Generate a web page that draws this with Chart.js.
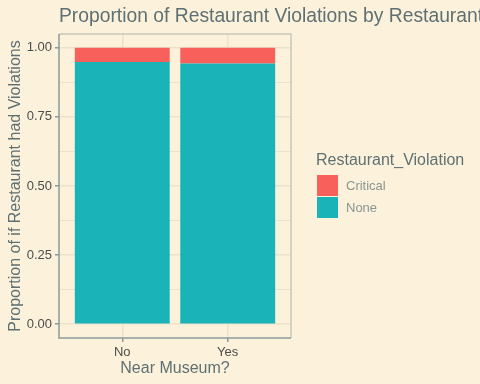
<!DOCTYPE html>
<html><head><meta charset="utf-8">
<script src="https://cdn.jsdelivr.net/npm/chart.js@4/dist/chart.umd.min.js"></script>
<style>html,body{margin:0;padding:0;background:#FCF2DC;}#wrap{width:480px;height:384px;}</style>
</head><body><div id="wrap"><canvas id="c" width="480" height="384"></canvas></div>
<script>
const categories = ["No", "Yes"];
const seriesNames = ["Critical", "None"];
const noneValues = [0.949, 0.943];
const criticalValues = [0.051, 0.057];
const yTicks = [0, 0.25, 0.5, 0.75, 1.0];
const colors = {Critical: "#F8615B", None: "#1AB3B8"};
const titleText = "Proportion of Restaurant Violations by Restaurant";
const legendTitle = "Restaurant_Violation";
const xTitle = "Near Museum?";
const yTitle = "Proportion of if Restaurant had Violations";

const BG = "#FCF2DC";
const GRID = "#ECE2CA";
const TEXT = "#5E7073";
const FONT = "'Liberation Sans', Arial, sans-serif";

const datasets = [
  {label: "None", data: categories.map((c,i)=>({x:i+1, y:noneValues[i]})), backgroundColor: colors.None},
  {label: "Critical", data: categories.map((c,i)=>({x:i+1, y:criticalValues[i]})), backgroundColor: colors.Critical}
];

const bgPlugin = {
  id: 'bg',
  beforeDraw(chart) {
    const ctx = chart.ctx;
    ctx.save(); ctx.fillStyle = BG; ctx.fillRect(0,0,chart.width,chart.height); ctx.restore();
  },
  afterDraw(chart) {
    const ctx = chart.ctx, a = chart.chartArea;
    ctx.save();
    ctx.strokeStyle = "#C9C7B8"; ctx.lineWidth = 1.5;
    ctx.beginPath(); ctx.moveTo(a.left, a.top); ctx.lineTo(a.right, a.top); ctx.lineTo(a.right, a.bottom); ctx.stroke();
    ctx.strokeStyle = "#8C9B9A"; ctx.lineWidth = 1.5;
    ctx.beginPath(); ctx.moveTo(a.left, a.top); ctx.lineTo(a.left, a.bottom); ctx.lineTo(a.right, a.bottom); ctx.stroke();
    ctx.fillStyle = TEXT; ctx.font = "19.3px " + FONT;
    ctx.textAlign = "left"; ctx.textBaseline = "alphabetic";
    ctx.fillText(titleText, 59, 22);
    ctx.font = "16px " + FONT;
    ctx.fillStyle = TEXT;
    ctx.fillText(legendTitle, 316, 165);
    seriesNames.forEach((n,i)=>{
      const y = 175 + i*22;
      ctx.fillStyle = colors[n];
      ctx.fillRect(317, y, 21, 21);
      ctx.fillStyle = "#8A9492";
      ctx.font = "13px " + FONT;
      ctx.textBaseline = "middle";
      ctx.fillText(n, 346, y + 11);
      ctx.textBaseline = "alphabetic";
    });
    ctx.restore();
  }
};

const isMajor = (v)=> yTicks.some(t=>Math.abs(t-v)<1e-9);

new Chart(document.getElementById('c'), {
  type: 'bar',
  data: {datasets},
  plugins: [bgPlugin],
  options: {
    responsive: false, animation: false,
    layout: {padding: {left: 0, top: 34, right: 189, bottom: 0}},
    plugins: {legend: {display: false}, tooltip: {enabled: false}},
    datasets: {bar: {categoryPercentage: 1, barPercentage: 0.9}},
    scales: {
      x: {
        type: 'linear', stacked: true, min: 0.4, max: 2.6, offset: false,
        afterBuildTicks(scale){ scale.ticks = categories.map((c,i)=>({value:i+1})); },
        afterFit(scale){ scale.height = 46; },
        ticks: {callback: (v)=>categories[v-1] ?? '', color: "#4D4D4D", font: {size: 13, family: FONT}, padding: 3, maxRotation: 0},
        grid: {offset: false, color: GRID, lineWidth: 1.5, tickColor: "#8C9B9A", tickLength: 4, drawTicks: true},
        border: {display: false},
        title: {display: true, text: xTitle, color: TEXT, font: {size: 16, family: FONT}, padding: {top: 0, bottom: 6}}
      },
      y: {
        stacked: true, min: -0.05, max: 1.05,
        afterBuildTicks(scale){
          const t = [];
          for (let k=0;k<=8;k++) t.push({value: k*0.125});
          scale.ticks = t;
        },
        afterFit(scale){ scale.width = 59; },
        ticks: {callback: (v)=> isMajor(v) ? v.toFixed(2) : '', color: "#4D4D4D", font: {size: 13, family: FONT}, padding: 3},
        grid: {color: GRID, lineWidth: (c)=> (c.tick && isMajor(c.tick.value)) ? 1.5 : 1,
               tickColor: (c)=> (c.tick && isMajor(c.tick.value)) ? "#8C9B9A" : "rgba(0,0,0,0)", tickLength: 4},
        border: {display: false},
        title: {display: true, text: yTitle, color: TEXT, font: {size: 16, family: FONT}, padding: {top: 6, bottom: 0}}
      }
    }
  }
});
</script>
</body></html>
